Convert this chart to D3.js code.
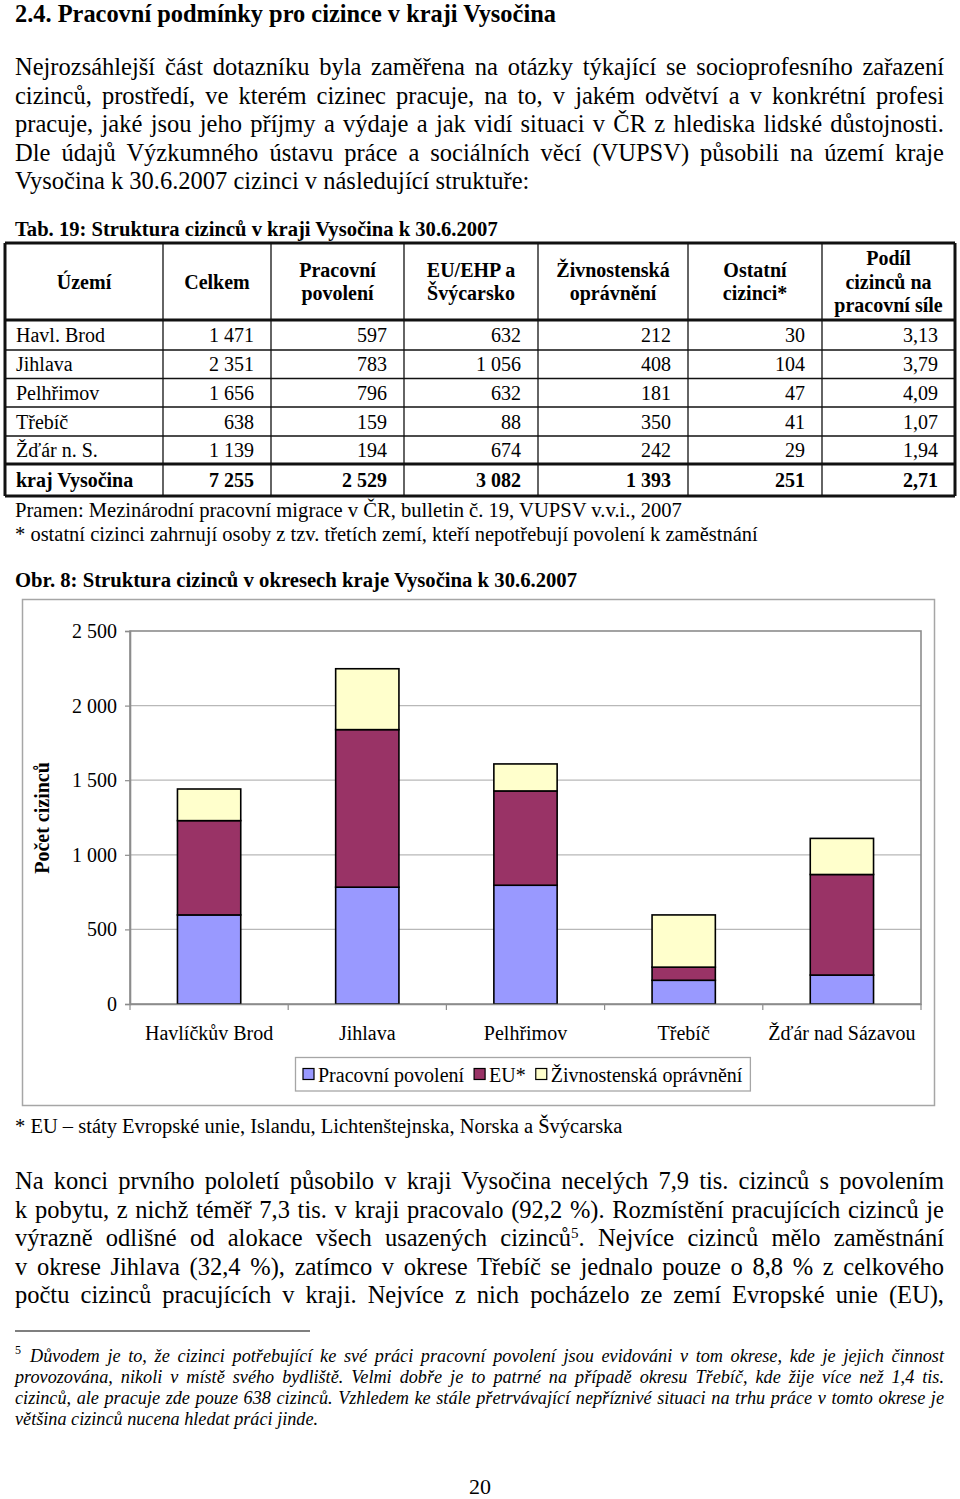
<!DOCTYPE html>
<html><head><meta charset="utf-8">
<script src="https://cdn.jsdelivr.net/npm/d3@7"></script>
<style>
body{margin:0;background:#fff}
svg{display:block}
text{font-family:"Liberation Serif","Times New Roman",serif;fill:#000}
</style>
</head><body>
<svg id="page" width="960" height="1499"></svg>
<script>
// ---------- DATA ----------
const districts = ["Havl. Brod","Jihlava","Pelhřimov","Třebíč","Žďár n. S."];
const celkem = [1471, 2351, 1656, 638, 1139];
const pracovniPovoleni = [597, 783, 796, 159, 194];
const euEhp = [632, 1056, 632, 88, 674];
const zivnostenska = [212, 408, 181, 350, 242];
const ostatni = [30, 104, 47, 41, 29];
const podil = [3.13, 3.79, 4.09, 1.07, 1.94];
const totalRow = ["kraj Vysočina", 7255, 2529, 3082, 1393, 251, 2.71];
const tableHeaders = [["Území"],["Celkem"],["Pracovní","povolení"],["EU/EHP a","Švýcarsko"],["Živnostenská","oprávnění"],["Ostatní","cizinci*"],["Podíl","cizinců na","pracovní síle"]];

const chartCategories = ["Havlíčkův Brod","Jihlava","Pelhřimov","Třebíč","Žďár nad Sázavou"];
const seriesNames = ["Pracovní povolení","EU*","Živnostenská oprávnění"];
const seriesColors = ["#9999FF","#993366","#FFFFCC"];
const yTicks = [0, 500, 1000, 1500, 2000, 2500];

const para1 = [
 "Nejrozsáhlejší část dotazníku byla zaměřena na otázky týkající se socioprofesního zařazení",
 "cizinců, prostředí, ve kterém cizinec pracuje, na to, v jakém odvětví a v konkrétní profesi",
 "pracuje, jaké jsou jeho příjmy a výdaje a jak vidí situaci v ČR z hlediska lidské důstojnosti.",
 "Dle údajů Výzkumného ústavu práce a sociálních věcí (VUPSV) působili na území kraje",
 "Vysočina k 30.6.2007 cizinci v následující struktuře:"
];
const para2 = [
 "Na konci prvního pololetí působilo v kraji Vysočina necelých 7,9 tis. cizinců s povolením",
 "k pobytu, z nichž téměř 7,3 tis. v kraji pracovalo (92,2 %). Rozmístění pracujících cizinců je",
 "výrazně odlišné od alokace všech usazených cizinců|5|. Nejvíce cizinců mělo zaměstnání",
 "v okrese Jihlava (32,4 %), zatímco v okrese Třebíč se jednalo pouze o 8,8 % z celkového",
 "počtu cizinců pracujících v kraji. Nejvíce z nich pocházelo ze zemí Evropské unie (EU),"
];
const footnote = [
 "Důvodem je to, že cizinci potřebující ke své práci pracovní povolení jsou evidováni v tom okrese, kde je jejich činnost",
 "provozována, nikoli v místě svého bydliště. Velmi dobře je to patrné na případě okresu Třebíč, kde žije více než 1,4 tis.",
 "cizinců, ale pracuje zde pouze 638 cizinců. Vzhledem ke stále přetrvávající nepříznivé situaci na trhu práce v tomto okrese je",
 "většina cizinců nucena hledat práci jinde."
];

// ---------- HELPERS ----------
const svg = d3.select("#page");
const loc = d3.formatLocale({decimal:",", thousands:"\u00a0", grouping:[3], currency:["",""]});
const fmtInt = loc.format(",d");
const fmtDec = loc.format(".2f");

function txt(parent, x, y, str, o = {}) {
  const t = parent.append("text").attr("x", x).attr("y", y)
    .style("font-size", (o.size || 20) + "px")
    .style("font-weight", o.bold ? "bold" : "normal")
    .style("font-style", o.italic ? "italic" : "normal")
    .attr("text-anchor", o.anchor || "start");
  const parts = str.split("|");
  parts.forEach((p, i) => {
    const ts = t.append("tspan").text(p);
    if (i % 2 === 1) ts.attr("baseline-shift", "super").style("font-size", Math.round((o.size||20)*0.62) + "px");
  });
  if (o.width) {
    const nat = t.node().getComputedTextLength();
    const n = (str.match(/ /g) || []).length;
    if (n > 0) t.attr("word-spacing", (o.width - nat) / n);
  }
  return t;
}

// ---------- TEXT ----------
txt(svg, 15, 22, "2.4. Pracovní podmínky pro cizince v kraji Vysočina", {size: 24.4, bold: true});
const p1y = [75, 103.5, 132, 160.5, 189];
para1.forEach((l, i) => txt(svg, 15, p1y[i], l, {size: 24.5, width: i < 4 ? 929 : null}));

txt(svg, 15, 236, "Tab. 19: Struktura cizinců v kraji Vysočina k 30.6.2007", {size: 20.6, bold: true});

// ---------- TABLE ----------
const colX = [5, 163, 271, 404, 538, 688, 822, 955];
const rowY = [243, 320, 350, 378.5, 407, 436, 464, 496];
const tg = svg.append("g");
rowY.forEach((yy, i) => {
  const thick = (i === 0 || i === 1 || i === 6 || i === 7);
  tg.append("line").attr("x1", colX[0]).attr("x2", colX[7]).attr("y1", yy).attr("y2", yy)
    .attr("stroke", "#111").attr("stroke-width", thick ? 3 : 1.3);
});
colX.forEach((xx, i) => {
  const outer = (i === 0 || i === colX.length - 1);
  tg.append("line").attr("x1", xx).attr("x2", xx).attr("y1", rowY[0]).attr("y2", rowY[7])
    .attr("stroke", "#111").attr("stroke-width", outer ? 3 : 1.3);
});
tableHeaders.forEach((h, i) => {
  const cx = (colX[i] + colX[i + 1]) / 2;
  const mid = (rowY[0] + rowY[1]) / 2 + 7;
  const lh = 23.5;
  h.forEach((s, j) => {
    txt(tg, cx, mid + (j - (h.length - 1) / 2) * lh, s, {size: 20, bold: true, anchor: "middle"});
  });
});
const rows = districts.map((d, i) => [d, celkem[i], pracovniPovoleni[i], euEhp[i], zivnostenska[i], ostatni[i], podil[i]]);
rows.concat([totalRow]).forEach((r, ri) => {
  const bold = ri === rows.length;
  const yy = (rowY[ri + 1] + rowY[ri + 2]) / 2 + 7;
  r.forEach((v, ci) => {
    if (ci === 0) txt(tg, colX[0] + 11, yy, v, {size: 20, bold});
    else {
      const s = ci === 6 ? fmtDec(v) : fmtInt(v);
      txt(tg, colX[ci + 1] - 17, yy, s, {size: 20, bold, anchor: "end"});
    }
  });
});

txt(svg, 15, 517, "Pramen: Mezinárodní pracovní migrace v ČR, bulletin č. 19, VUPSV v.v.i., 2007", {size: 20.6});
txt(svg, 15, 541, "* ostatní cizinci zahrnují osoby z tzv. třetích zemí, kteří nepotřebují povolení k zaměstnání", {size: 20.5});
txt(svg, 15, 587, "Obr. 8: Struktura cizinců v okresech kraje Vysočina k 30.6.2007", {size: 20.7, bold: true});

// ---------- CHART ----------
const cg = svg.append("g");
cg.append("rect").attr("x", 22.5).attr("y", 599.5).attr("width", 912).attr("height", 506)
  .attr("fill", "#fff").attr("stroke", "#a6a6a6").attr("stroke-width", 1.5);

const plot = {l: 130, r: 921, t: 631, b: 1004};
const x = d3.scaleBand().domain(chartCategories).range([plot.l, plot.r]).paddingInner(0.6).paddingOuter(0.3);
const y = d3.scaleLinear().domain([0, 2500]).range([plot.b, plot.t]);

cg.append("g").selectAll("line").data(yTicks.filter(v => v > 0 && v < 2500)).join("line")
  .attr("x1", plot.l).attr("x2", plot.r).attr("y1", d => y(d)).attr("y2", d => y(d))
  .attr("stroke", "#b8b8b8").attr("stroke-width", 1.2);
cg.append("rect").attr("x", plot.l).attr("y", plot.t).attr("width", plot.r - plot.l).attr("height", plot.b - plot.t)
  .attr("fill", "none").attr("stroke", "#8c8c8c").attr("stroke-width", 1.6);

const stackData = chartCategories.map((c, i) => ({cat: c, s0: pracovniPovoleni[i], s1: euEhp[i], s2: zivnostenska[i]}));
const stack = d3.stack().keys(["s0", "s1", "s2"])(stackData);
stack.forEach((layer, li) => {
  cg.append("g").selectAll("rect").data(layer).join("rect")
    .attr("x", d => x(d.data.cat)).attr("width", x.bandwidth())
    .attr("y", d => y(d[1])).attr("height", d => y(d[0]) - y(d[1]))
    .attr("fill", seriesColors[li]).attr("stroke", "#000").attr("stroke-width", 1.6);
});

const yAxis = cg.append("g").attr("transform", `translate(${plot.l},0)`)
  .call(d3.axisLeft(y).tickValues(yTicks).tickSize(5).tickPadding(8).tickFormat(fmtInt));
yAxis.select(".domain").attr("stroke", "#8c8c8c").attr("stroke-width", 1.6);
yAxis.selectAll(".tick line").attr("stroke", "#8c8c8c").attr("stroke-width", 1.2);
yAxis.selectAll("text").style("font-size", "20px").style("font-family", "'Liberation Serif',serif").attr("fill", "#000");

const xAxis = cg.append("g").attr("transform", `translate(0,${plot.b})`)
  .call(d3.axisBottom(x).tickSize(0).tickPadding(22));
xAxis.select(".domain").attr("stroke", "#8c8c8c").attr("stroke-width", 1.6);
xAxis.selectAll("text").style("font-size", "20px").style("font-family", "'Liberation Serif',serif").attr("fill", "#000");
const bounds = d3.range(chartCategories.length + 1).map(i => plot.l + i * x.step());
cg.append("g").selectAll("line").data(bounds).join("line")
  .attr("x1", d => d).attr("x2", d => d).attr("y1", plot.b).attr("y2", plot.b + 6)
  .attr("stroke", "#8c8c8c").attr("stroke-width", 1.2);

cg.append("text").attr("transform", "translate(49,818) rotate(-90)").attr("text-anchor", "middle")
  .style("font-size", "20px").style("font-weight", "bold").text("Počet cizinců");

const lg = cg.append("g");
const legBox = lg.append("rect").attr("x", 295.5).attr("y", 1057.5).attr("height", 33.5)
  .attr("fill", "#fff").attr("stroke", "#a6a6a6").attr("stroke-width", 1.3);
let lx = 303;
seriesNames.forEach((n, i) => {
  lg.append("rect").attr("x", lx).attr("y", 1068.5).attr("width", 11).attr("height", 11)
    .attr("fill", seriesColors[i]).attr("stroke", "#000").attr("stroke-width", 1.2);
  const t = txt(lg, lx + 15, 1082, n, {size: 20});
  lx = lx + 15 + t.node().getComputedTextLength() + 10;
});
legBox.attr("width", lx - 295.5 - 2);

txt(svg, 15, 1133, "* EU – státy Evropské unie, Islandu, Lichtenštejnska, Norska a Švýcarska", {size: 20.5});

// ---------- PARAGRAPH 2 ----------
const p2y = [1189, 1217.5, 1246, 1274.5, 1303];
para2.forEach((l, i) => txt(svg, 15, p2y[i], l, {size: 24.5, width: 929}));

svg.append("line").attr("x1", 15).attr("x2", 310).attr("y1", 1331).attr("y2", 1331).attr("stroke", "#000").attr("stroke-width", 1.2);
txt(svg, 15, 1354, "5", {size: 12});
const fy = [1362, 1383, 1404, 1425];
footnote.forEach((l, i) => txt(svg, i === 0 ? 30 : 15, fy[i], l, {size: 18.2, italic: true, width: i < 3 ? (i === 0 ? 914 : 929) : null}));

txt(svg, 480, 1494, "20", {size: 22, anchor: "middle"});
</script>
</body></html>
